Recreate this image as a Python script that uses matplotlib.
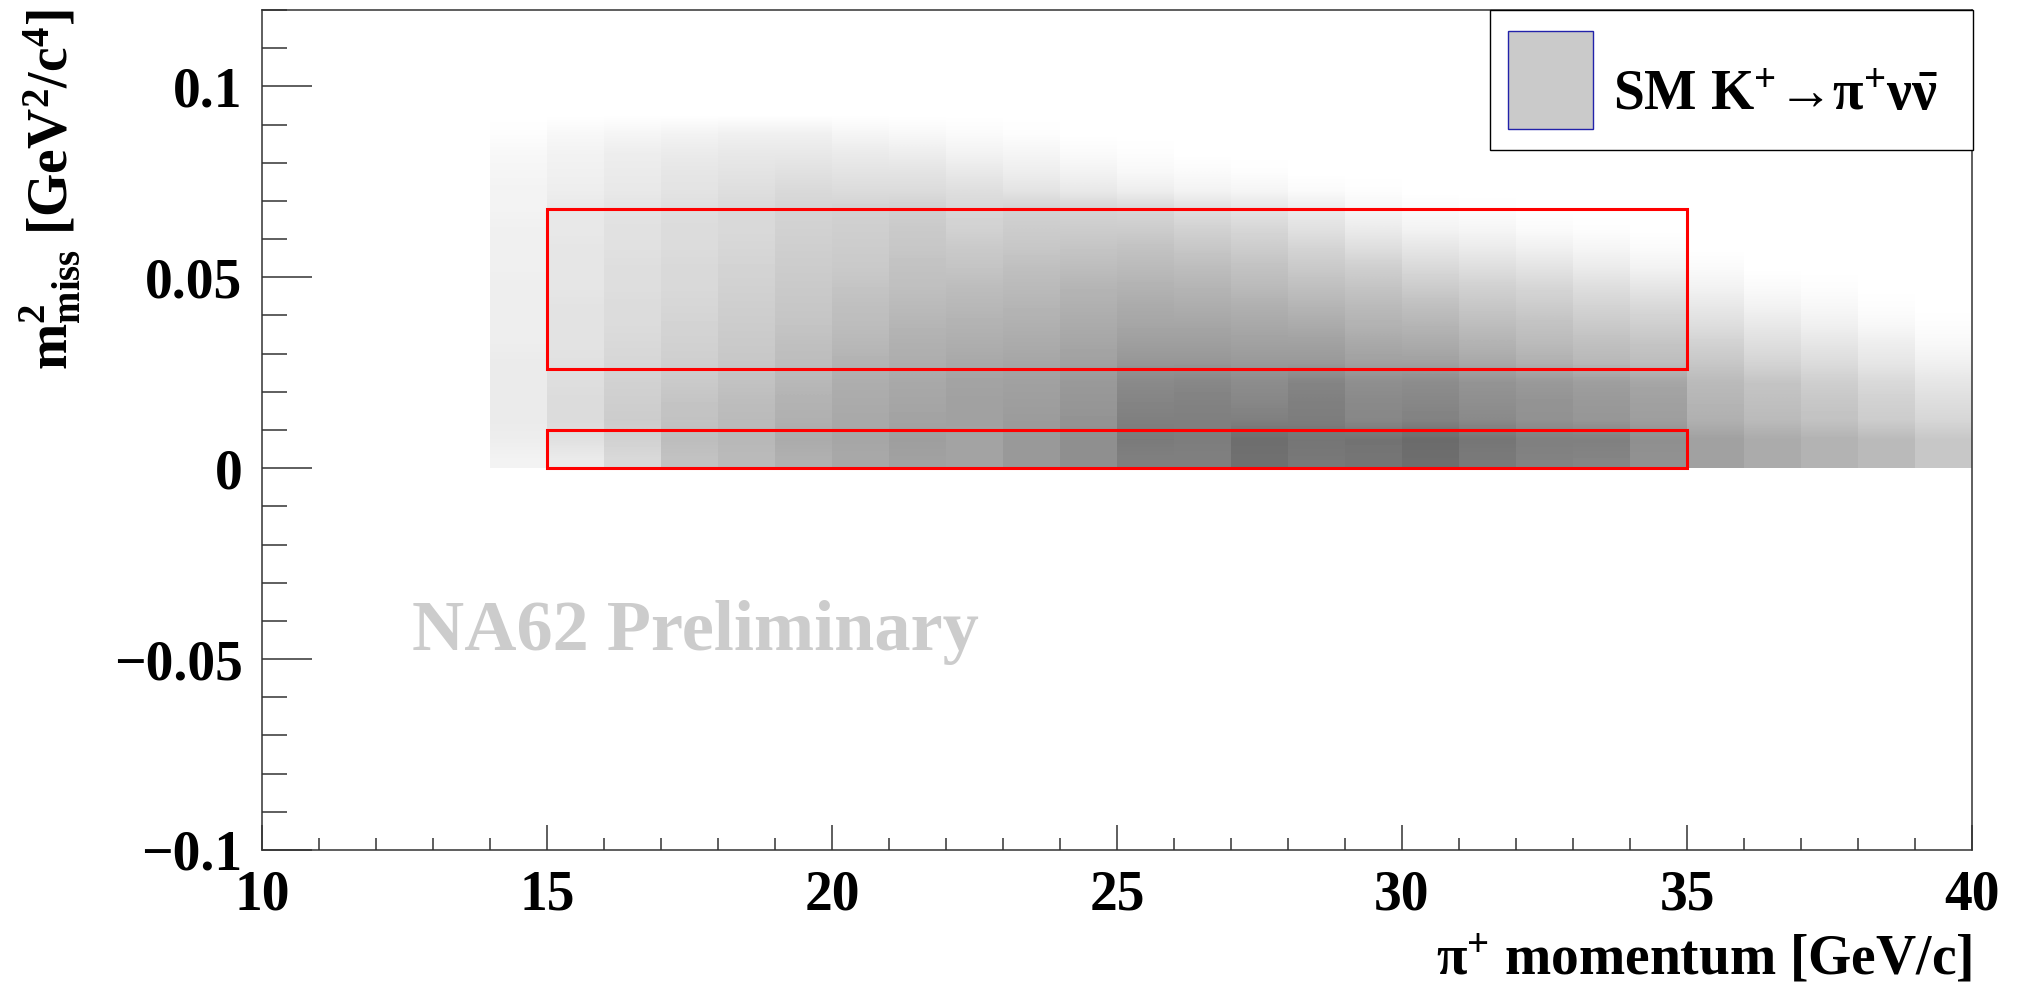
import numpy as np
import matplotlib
matplotlib.use('Agg')
import matplotlib.pyplot as plt
from matplotlib.colors import LinearSegmentedColormap
from matplotlib.patches import Rectangle
from matplotlib.ticker import MultipleLocator, FixedLocator

# pi+ momentum bins (low edges, GeV/c), 1 GeV/c wide
momentum_low = [14, 15, 16, 17, 18, 19, 20, 21, 22, 23, 24, 25, 26,
                27, 28, 29, 30, 31, 32, 33, 34, 35, 36, 37, 38, 39]
# m2_miss bin edges (GeV^2/c^4)
m2_edges = [0.0, 0.005, 0.01, 0.015, 0.02, 0.025, 0.03, 0.035, 0.04, 0.045,
            0.05, 0.055, 0.06, 0.065, 0.07, 0.075, 0.08, 0.085, 0.09, 0.095]

# MC content per momentum bin, m2 bins from bottom to top (arb. units)
counts = [
    [5, 7, 8, 8, 8, 8, 7, 7, 7, 7, 6, 6, 6, 5, 5, 4, 3, 1, 0],
    [8, 12, 14, 14, 13, 12, 11, 11, 11, 10, 10, 10, 9, 9, 7, 6, 5, 3, 0],
    [15, 18, 20, 19, 18, 16, 15, 14, 14, 13, 13, 12, 12, 11, 9, 8, 7, 4, 0],
    [24, 26, 24, 23, 21, 19, 18, 17, 16, 15, 15, 14, 14, 13, 11, 10, 8, 5, 0],
    [27, 28, 27, 26, 24, 22, 21, 20, 19, 18, 17, 16, 15, 15, 13, 11, 9, 6, 0],
    [31, 33, 31, 30, 28, 26, 25, 23, 22, 21, 20, 19, 18, 17, 15, 12, 9, 6, 0],
    [34, 35, 34, 33, 32, 30, 28, 26, 25, 23, 21, 20, 19, 18, 14, 11, 8, 4, 0],
    [37, 38, 36, 35, 34, 32, 31, 29, 27, 25, 24, 22, 21, 19, 14, 11, 7, 3, 0],
    [36, 36, 37, 37, 36, 34, 32, 30, 28, 26, 23, 21, 18, 16, 13, 9, 5, 2, 0],
    [40, 40, 39, 38, 37, 35, 33, 31, 29, 27, 25, 22, 20, 18, 11, 7, 4, 1, 0],
    [44, 44, 42, 41, 40, 37, 35, 33, 31, 29, 26, 23, 20, 17, 9, 5, 2, 0, 0],
    [50, 52, 50, 48, 46, 41, 38, 35, 33, 30, 27, 24, 20, 16, 7, 3, 1, 0, 0],
    [50, 51, 50, 49, 47, 41, 38, 35, 32, 29, 26, 22, 18, 13, 5, 2, 0, 0, 0],
    [56, 57, 50, 47, 45, 40, 37, 34, 31, 27, 24, 20, 16, 11, 4, 1, 0, 0, 0],
    [53, 54, 51, 50, 48, 40, 37, 33, 29, 25, 21, 17, 12, 8, 2, 0, 0, 0, 0],
    [54, 55, 47, 46, 44, 37, 34, 30, 27, 23, 19, 13, 8, 4, 1, 0, 0, 0, 0],
    [57, 58, 49, 47, 45, 37, 33, 29, 25, 20, 15, 10, 5, 2, 0, 0, 0, 0, 0],
    [52, 54, 46, 44, 42, 34, 30, 26, 22, 18, 13, 8, 4, 1, 0, 0, 0, 0, 0],
    [49, 50, 43, 42, 40, 31, 27, 24, 20, 16, 11, 6, 2, 0, 0, 0, 0, 0, 0],
    [48, 50, 41, 40, 38, 28, 25, 21, 17, 13, 8, 4, 1, 0, 0, 0, 0, 0, 0],
    [43, 44, 38, 37, 35, 26, 23, 19, 15, 10, 5, 2, 0, 0, 0, 0, 0, 0, 0],
    [37, 37, 31, 29, 27, 22, 18, 13, 9, 5, 2, 0, 0, 0, 0, 0, 0, 0, 0],
    [33, 33, 27, 25, 23, 17, 13, 9, 5, 2, 0, 0, 0, 0, 0, 0, 0, 0, 0],
    [30, 30, 24, 22, 19, 14, 10, 6, 3, 1, 0, 0, 0, 0, 0, 0, 0, 0, 0],
    [27, 27, 20, 18, 15, 10, 7, 3, 1, 0, 0, 0, 0, 0, 0, 0, 0, 0, 0],
    [22, 22, 16, 13, 10, 6, 3, 1, 0, 0, 0, 0, 0, 0, 0, 0, 0, 0, 0],
]

# signal regions: (p_min, p_max, m2_min, m2_max)
regions = [(15, 35, 0.0, 0.01), (15, 35, 0.026, 0.068)]

y_ticks = [-0.1, -0.05, 0.0, 0.05, 0.1]
y_ticklabels = ['\u22120.1', '\u22120.05', '0', '0.05', '0.1']

plt.rcParams['font.family'] = ['Liberation Serif', 'DejaVu Serif']
plt.rcParams['font.weight'] = 'bold'
plt.rcParams['mathtext.fontset'] = 'custom'
plt.rcParams['mathtext.rm'] = 'Liberation Serif:bold'
plt.rcParams['mathtext.it'] = 'Liberation Serif:bold'
plt.rcParams['mathtext.bf'] = 'Liberation Serif:bold'

W, H = 2020, 983
fig = plt.figure(figsize=(W / 100, H / 100), dpi=100)
ax = fig.add_axes([262 / W, 1 - 850 / H, (1972 - 262) / W, (850 - 10) / H])

cmap = LinearSegmentedColormap.from_list('grey_scale', ['#ffffff', '#000000'])
for p_lo, col in zip(momentum_low, counts):
    ax.imshow(np.array(col, dtype=float)[:, None], origin='lower',
              extent=[p_lo, p_lo + 1, m2_edges[0], m2_edges[-1]],
              cmap=cmap, vmin=0, vmax=100, aspect='auto',
              interpolation='bilinear', zorder=1)

for p0, p1, m0, m1 in regions:
    ax.add_patch(Rectangle((p0, m0), p1 - p0, m1 - m0, fill=False,
                           ec='#ff0000', lw=2.2, zorder=3))

ax.set_xlim(10, 40)
ax.set_ylim(-0.1, 0.12)
ax.xaxis.set_major_locator(MultipleLocator(5))
ax.xaxis.set_minor_locator(MultipleLocator(1))
ax.yaxis.set_major_locator(FixedLocator(y_ticks))
ax.yaxis.set_minor_locator(MultipleLocator(0.01))
ax.set_yticklabels(y_ticklabels)

ax.tick_params(which='both', direction='in', top=False, right=False,
               color='#333333', width=1.1, labelsize=40)
ax.tick_params(axis='y', which='major', length=36, pad=14)
ax.tick_params(axis='y', which='minor', length=18)
ax.tick_params(axis='x', which='major', length=18, pad=14)
ax.tick_params(axis='x', which='minor', length=9)
for s in ax.spines.values():
    s.set_linewidth(1.1)
    s.set_color('#333333')

# axis titles
fig.text(50 / W, 1 - 10 / H, r'$\mathrm{m^{2}_{miss}}$ [GeV$^{2}$/c$^{4}$]',
         rotation=90, ha='center', va='top', fontsize=40)
fig.text(1972 / W, 1 - 960 / H, r'$\mathrm{\pi}^{+}$ momentum [GeV/c]',
         ha='right', va='center', fontsize=40)

# watermark
fig.text(412 / W, 1 - 650 / H, 'NA62 Preliminary', fontsize=52,
         color='#cccccc', va='baseline', ha='left')

# legend box
fig.add_artist(Rectangle((1490 / W, 1 - 150 / H), 483 / W, 140 / H,
                         transform=fig.transFigure, fc='white', ec='black',
                         lw=1.0, zorder=5))
fig.add_artist(Rectangle((1508 / W, 1 - 129 / H), 85 / W, 98 / H,
                         transform=fig.transFigure, fc='#cacaca', ec='#2222aa',
                         lw=1.0, zorder=6))
fig.text(1613 / W, 1 - 110 / H,
         'SM K$^{+}$\u2192\u03c0$^{+}$\u03bd$\\bar{\\mathrm{\u03bd}}$',
         fontsize=40, va='baseline', ha='left', zorder=7)

fig.savefig('out.png', dpi=100, facecolor='white')
